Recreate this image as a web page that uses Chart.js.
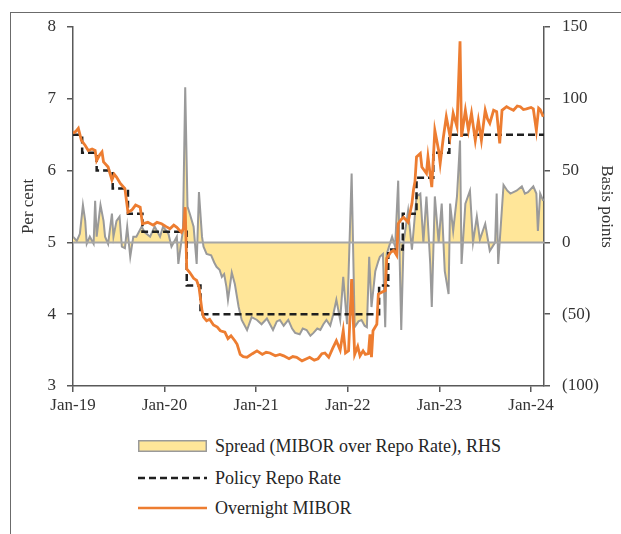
<!DOCTYPE html>
<html>
<head>
<meta charset="utf-8">
<script src="https://cdn.jsdelivr.net/npm/chart.js@4"></script>
<style>
  body { margin: 0; background: #fff; width: 621px; height: 534px; overflow: hidden; position: relative; font-family: "Liberation Serif", serif; }
  #frame { position: absolute; left: 10px; top: 12px; width: 700px; height: 600px; border-left: 1.5px solid #6b6b6b; border-top: 1.5px solid #6b6b6b; }
  #wrap { position: absolute; left: 0; top: 0; width: 621px; height: 420px; }
  .leg { position: absolute; left: 138px; height: 20px; display: flex; align-items: center; font-size: 18px; color: #262626; white-space: nowrap; }
  .leg svg { margin-right: 8px; }
</style>
</head>
<body>
<div id="frame"></div>
<div id="wrap"><canvas id="chart" width="621" height="420"></canvas></div>

<div class="leg" style="top:436px">
  <svg width="69" height="12"><rect x="0.75" y="0.75" width="67.5" height="10.5" fill="#FFE699" stroke="#9a9a9a" stroke-width="1.5"/></svg>
  Spread (MIBOR over Repo Rate), RHS
</div>
<div class="leg" style="top:468px">
  <svg width="69" height="12"><line x1="0" y1="6" x2="69" y2="6" stroke="#1f1f1f" stroke-width="2.5" stroke-dasharray="7 4"/></svg>
  Policy Repo Rate
</div>
<div class="leg" style="top:498px">
  <svg width="69" height="12"><line x1="0" y1="6" x2="69" y2="6" stroke="#ED7D31" stroke-width="2.5"/></svg>
  Overnight MIBOR
</div>

<script>
// x values are months since Jan 2019
const yearTicks = [0, 12, 24, 36, 48, 60];
const yearLabels = ['Jan-19', 'Jan-20', 'Jan-21', 'Jan-22', 'Jan-23', 'Jan-24'];
const xMax = 61.7;

// policy repo rate (per cent), value from that month on
const repoMonths = [0, 1.2, 3.1, 5.2, 7.2, 9.1, 14.9, 16.7, 40.1, 41.3, 43.2, 45.0, 47.2, 49.3, 61.7];
const repoValues = [6.50, 6.25, 6.00, 5.75, 5.40, 5.15, 4.40, 4.00, 4.40, 4.90, 5.40, 5.90, 6.25, 6.50, 6.50];

// overnight MIBOR (per cent)
const miborMonths = [
  0.0, 0.4, 0.7, 1.1, 1.6, 2.0, 2.5, 2.9, 3.1, 3.5,
  3.8, 4.0, 4.6, 5.1, 5.4, 5.7, 6.2, 6.8, 7.2, 7.7,
  8.2, 8.8, 9.1, 9.8, 10.5, 11.0, 11.6, 12.2, 12.7, 13.2,
  13.6, 14.2, 14.5, 14.7, 14.9, 15.3, 15.8, 16.2, 16.5, 16.9,
  17.1, 17.5, 17.9, 18.4, 18.9, 19.3, 19.9, 20.3, 20.7, 21.2,
  21.5, 21.9, 22.3, 22.8, 23.5, 24.1, 24.8, 25.3, 25.8, 26.5,
  27.1, 27.6, 28.3, 28.8, 29.3, 30.0, 30.6, 31.0, 31.6, 32.1,
  32.6, 33.0, 33.5, 34.0, 34.5, 35.0, 35.4, 35.7, 36.1, 36.5,
  36.9, 37.3, 37.6, 38.0, 38.3, 38.7, 38.9, 39.1, 39.3, 39.8,
  40.0, 40.5, 40.9, 41.1, 41.6, 42.0, 42.4, 42.6, 43.0, 43.3,
  43.9, 44.4, 44.6, 44.8, 45.0, 45.5, 45.7, 46.3, 46.5, 47.0,
  47.4, 47.9, 48.1, 48.5, 48.9, 49.4, 49.8, 50.3, 50.7, 50.9,
  51.4, 51.8, 52.2, 52.7, 53.1, 53.5, 54.0, 54.3, 54.6, 55.1,
  55.5, 55.9, 56.2, 56.8, 57.3, 57.7, 58.2, 58.6, 59.0, 59.4,
  60.0, 60.3, 60.7, 61.0, 61.2, 61.6];
const miborValues = [
  6.52, 6.55, 6.59, 6.42, 6.35, 6.28, 6.30, 6.28, 6.14, 6.22,
  6.26, 6.12, 6.05, 5.87, 5.95, 5.91, 5.82, 5.75, 5.42, 5.45,
  5.52, 5.49, 5.26, 5.28, 5.24, 5.28, 5.26, 5.22, 5.19, 5.24,
  5.21, 5.14, 5.20, 5.49, 4.63, 4.58, 4.50, 4.47, 4.38, 4.05,
  3.96, 3.91, 3.93, 3.85, 3.82, 3.77, 3.75, 3.66, 3.70, 3.63,
  3.58, 3.44, 3.41, 3.40, 3.45, 3.49, 3.44, 3.47, 3.46, 3.42,
  3.44, 3.42, 3.38, 3.41, 3.40, 3.35, 3.38, 3.40, 3.36, 3.38,
  3.45, 3.46, 3.40, 3.52, 3.63, 3.50, 3.77, 3.46, 3.49, 4.49,
  3.44, 3.55, 3.42, 3.49, 3.44, 3.45, 3.72, 3.40, 3.77, 3.86,
  4.28, 4.31, 4.33, 4.78, 4.86, 4.89, 4.82, 5.26, 5.32, 5.35,
  5.28, 5.54, 5.73, 5.85, 6.19, 6.24, 6.05, 5.96, 6.19, 5.77,
  6.56, 6.28, 6.10, 6.45, 6.75, 6.47, 6.80, 6.61, 7.80, 6.47,
  6.84, 6.56, 6.80, 6.42, 6.70, 6.42, 6.84, 6.72, 6.66, 6.84,
  6.82, 6.38, 6.84, 6.89, 6.86, 6.84, 6.90, 6.89, 6.85, 6.86,
  6.88, 6.86, 6.56, 6.87, 6.85, 6.75];

// spread, MIBOR over repo rate (basis points, RHS)
const spreadMonths = [
  0.0, 0.5, 0.9, 1.3, 1.6, 1.8, 2.2, 2.7, 2.9, 3.1,
  3.6, 4.0, 4.2, 4.6, 5.1, 5.3, 5.7, 6.1, 6.4, 6.8,
  7.1, 7.5, 7.9, 8.3, 9.0, 9.4, 10.1, 10.7, 11.4, 11.8,
  12.5, 12.9, 13.6, 13.8, 14.2, 14.4, 14.7, 15.0, 15.3, 15.8,
  16.2, 16.5, 16.9, 17.1, 17.5, 18.1, 18.5, 18.8, 19.2, 19.5,
  19.8, 20.1, 20.3, 20.8, 21.2, 21.7, 22.1, 22.8, 23.4, 24.1,
  24.7, 25.4, 26.2, 26.7, 27.1, 27.6, 28.2, 28.7, 29.1, 29.7,
  30.1, 30.6, 31.1, 31.5, 32.0, 32.4, 32.8, 33.2, 33.7, 34.1,
  34.5, 35.0, 35.4, 35.9, 36.5, 36.9, 37.4, 37.8, 38.2, 38.5,
  38.8, 39.1, 39.6, 40.0, 40.2, 40.6, 40.9, 41.1, 41.8, 42.2,
  42.6, 42.8, 43.0, 43.3, 43.9, 44.4, 45.0, 45.5, 45.9, 46.3,
  46.8, 47.0, 47.4, 47.9, 48.3, 48.7, 49.2, 49.4, 49.8, 50.3,
  50.7, 50.9, 51.4, 52.0, 52.4, 52.9, 53.3, 54.0, 54.6, 55.3,
  55.5, 55.7, 56.4, 56.9, 57.3, 58.1, 58.8, 59.2, 59.6, 60.3,
  60.7, 60.9, 61.2, 61.6];
const spreadValues = [
  4, 1, 6, 26, 15, -1, 4, -1, 29, 4,
  26, 15, 4, -1, 20, 4, 15, 18, -3, -4,
  11, -10, 4, 4, 11, 7, 4, 11, 4, 11,
  6, -3, 4, -15, 1, 8, 108, 25, 20, 11,
  -15, 35, 4, -3, -8, -9, -14, -17, -19, -24,
  -22, -31, -40, -21, -29, -45, -54, -61, -52, -54,
  -57, -53, -61, -55, -54, -58, -54, -60, -63, -64,
  -60, -61, -65, -63, -60, -61, -57, -54, -58, -50,
  -40, -54, -24, -57, 48, -59, -55, -54, -58, -59,
  -10, -45, -20, -13, -10, -8, -59, -8, 4, -3,
  43, -13, -61, 0, 22, -5, 32, 34, 0, 32,
  -15, -45, 32, 0, 27, -20, -36, 27, 8, 32,
  71, -15, 27, 36, 0, 18, 2, 13, -6, 0,
  34, -15, 40, 36, 34, 36, 39, 34, 35, 39,
  34, 8, 34, 29];

const pts = (xs, ys) => xs.map((x, i) => ({ x: x, y: ys[i] }));

const axisColor = '#595959';
const tickFont = { family: 'Liberation Serif', size: 17 };
const gridOpts = { drawOnChartArea: false, drawTicks: true, tickLength: 6, color: axisColor, lineWidth: 1.5 };

new Chart(document.getElementById('chart'), {
  type: 'line',
  data: {
    datasets: [
      { label: 'Overnight MIBOR', data: pts(miborMonths, miborValues), yAxisID: 'y',
        borderColor: '#ED7D31', borderWidth: 2.8, pointRadius: 0, order: 0 },
      { label: 'Policy Repo Rate', data: pts(repoMonths, repoValues), yAxisID: 'y', stepped: true,
        borderColor: '#1f1f1f', borderWidth: 2.5, borderDash: [7, 4], pointRadius: 0, order: 1 },
      { label: 'zero', data: pts([0, xMax], [0, 0]), yAxisID: 'y2',
        borderColor: '#a6a6a6', borderWidth: 2, pointRadius: 0, order: 2 },
      { label: 'Spread (MIBOR over Repo Rate), RHS', data: pts(spreadMonths, spreadValues), yAxisID: 'y2',
        borderColor: '#9a9a9a', borderWidth: 2, pointRadius: 0, fill: { value: 0 },
        backgroundColor: '#FFE699', order: 3 }
    ]
  },
  options: {
    responsive: false,
    animation: false,
    devicePixelRatio: 1,
    layout: { padding: { top: 27, left: 0, right: 0, bottom: 0 } },
    plugins: { legend: { display: false }, tooltip: { enabled: false } },
    scales: {
      x: {
        type: 'linear', min: 0, max: xMax,
        afterBuildTicks: s => { s.ticks = yearTicks.map(v => ({ value: v })); },
        afterFit: s => { s.height = 34; },
        ticks: { font: tickFont, color: '#333', padding: 3, maxRotation: 0, autoSkip: false,
          callback: v => yearLabels[yearTicks.indexOf(v)] },
        grid: gridOpts,
        border: { color: axisColor, width: 1.5 }
      },
      y: {
        position: 'left', min: 3, max: 8,
        afterFit: s => { s.width = 73; },
        ticks: { stepSize: 1, font: tickFont, color: '#333', padding: 11 },
        grid: gridOpts,
        border: { color: axisColor, width: 1.5 },
        title: { display: true, text: 'Per cent', font: tickFont, color: '#333', padding: { top: 18 } }
      },
      y2: {
        position: 'right', min: -100, max: 150,
        afterFit: s => { s.width = 77; },
        ticks: { stepSize: 50, font: tickFont, color: '#333', padding: 12,
          callback: v => v < 0 ? '(' + (-v) + ')' : String(v) },
        grid: gridOpts,
        border: { color: axisColor, width: 1.5 },
        title: { display: true, text: 'Basis points', font: tickFont, color: '#333', padding: { top: 4 } }
      }
    }
  }
});
</script>
</body>
</html>
